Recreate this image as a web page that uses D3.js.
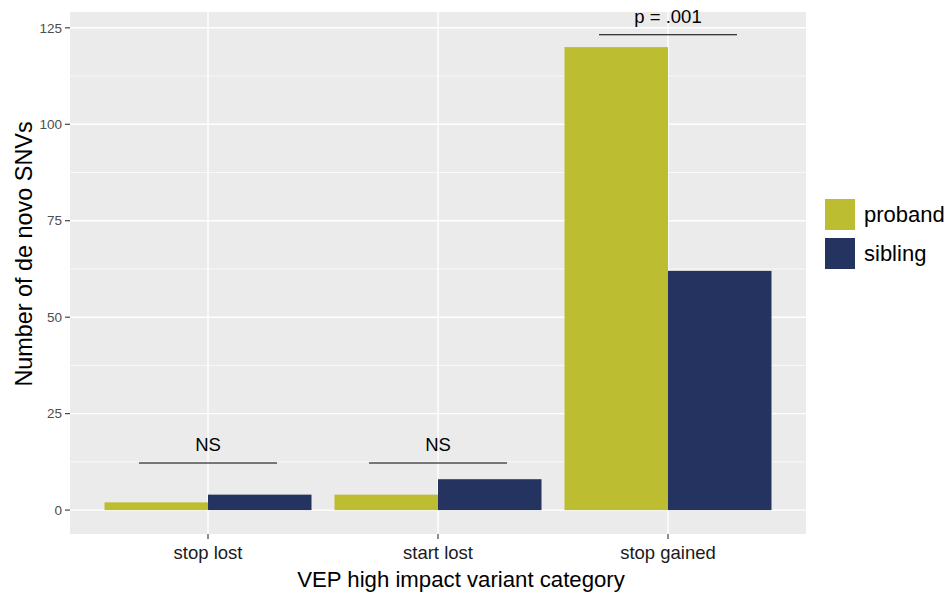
<!DOCTYPE html>
<html><head><meta charset="utf-8">
<script src="https://cdn.jsdelivr.net/npm/d3@7"></script>
<style>body{margin:0;background:#fff;} text{font-family:"Liberation Sans",Arial,sans-serif;}</style>
</head><body>
<svg id="c" width="950" height="594"></svg>
<script>
const categories = ["stop lost", "start lost", "stop gained"];
const groups = ["proband", "sibling"];
const probandValues = [2, 4, 120];
const siblingValues = [4, 8, 62];
const yTicks = [0, 25, 50, 75, 100, 125];
const yMinor = [12.5, 37.5, 62.5, 87.5, 112.5];
const annotations = [
  {cat: "stop lost", y: 12.2, label: "NS"},
  {cat: "start lost", y: 12.2, label: "NS"},
  {cat: "stop gained", y: 123.2, label: "p = .001"}
];
const colors = {proband: "#bdbd31", sibling: "#243360"};

const svg = d3.select("#c");
const L = 70, R = 806, T = 12, B = 534;
svg.append("rect").attr("x", L).attr("y", T).attr("width", R - L).attr("height", B - T).attr("fill", "#ebebeb");

const xc = d3.scaleLinear().domain([0.4, 3.6]).range([L, R]);
const xpos = c => categories.indexOf(c) + 1;
const y = d3.scaleLinear().domain([-6.2, 129.1]).range([B, T]);

const g = svg.append("g");
yMinor.forEach(v => g.append("line").attr("x1", L).attr("x2", R).attr("y1", y(v)).attr("y2", y(v)).attr("stroke", "#fff").attr("stroke-width", 0.7));
yTicks.forEach(v => g.append("line").attr("x1", L).attr("x2", R).attr("y1", y(v)).attr("y2", y(v)).attr("stroke", "#fff").attr("stroke-width", 1.4));
categories.forEach(c => g.append("line").attr("x1", xc(xpos(c))).attr("x2", xc(xpos(c))).attr("y1", T).attr("y2", B).attr("stroke", "#fff").attr("stroke-width", 1.4));

const data = [];
categories.forEach((c, i) => {
  data.push({cat: c, grp: "proband", v: probandValues[i], off: -0.45});
  data.push({cat: c, grp: "sibling", v: siblingValues[i], off: 0});
});
g.selectAll("rect.bar").data(data).enter().append("rect")
  .attr("x", d => xc(xpos(d.cat) + d.off))
  .attr("width", d => xc(xpos(d.cat) + d.off + 0.45) - xc(xpos(d.cat) + d.off))
  .attr("y", d => y(d.v)).attr("height", d => y(0) - y(d.v))
  .attr("fill", d => colors[d.grp]);

annotations.forEach(a => {
  const cx = xpos(a.cat);
  g.append("line").attr("x1", xc(cx - 0.3)).attr("x2", xc(cx + 0.3)).attr("y1", y(a.y)).attr("y2", y(a.y)).attr("stroke", "#000").attr("stroke-width", 1.2);
  g.append("text").attr("x", xc(cx)).attr("y", y(a.y) - 12).attr("text-anchor", "middle").attr("font-size", 18.5).attr("fill", "#000").text(a.label);
});

yTicks.forEach(v => {
  svg.append("line").attr("x1", L - 5).attr("x2", L).attr("y1", y(v)).attr("y2", y(v)).attr("stroke", "#333").attr("stroke-width", 1.1);
  svg.append("text").attr("x", L - 8).attr("y", y(v)).attr("dy", "0.35em").attr("text-anchor", "end").attr("font-size", 13.5).attr("fill", "#4d4d4d").text(v);
});
categories.forEach(c => {
  svg.append("line").attr("x1", xc(xpos(c))).attr("x2", xc(xpos(c))).attr("y1", B).attr("y2", B + 5).attr("stroke", "#333").attr("stroke-width", 1.1);
  svg.append("text").attr("x", xc(xpos(c))).attr("y", B + 25).attr("text-anchor", "middle").attr("font-size", 18.5).attr("fill", "#1a1a1a").text(c);
});
svg.append("text").attr("x", 461).attr("y", 587).attr("text-anchor", "middle").attr("font-size", 22.2).attr("fill", "#000").text("VEP high impact variant category");
svg.append("text").attr("transform", `translate(32,254) rotate(-90)`).attr("text-anchor", "middle").attr("font-size", 23.4).attr("fill", "#000").text("Number of de novo SNVs");

groups.forEach((gname, i) => {
  const ky = 199 + i * 39;
  svg.append("rect").attr("x", 825).attr("y", ky).attr("width", 30).attr("height", 31).attr("fill", colors[gname]);
  svg.append("text").attr("x", 864).attr("y", ky + 15.5).attr("dy", "0.35em").attr("font-size", 22).attr("fill", "#000").text(gname);
});
</script>
</body></html>
